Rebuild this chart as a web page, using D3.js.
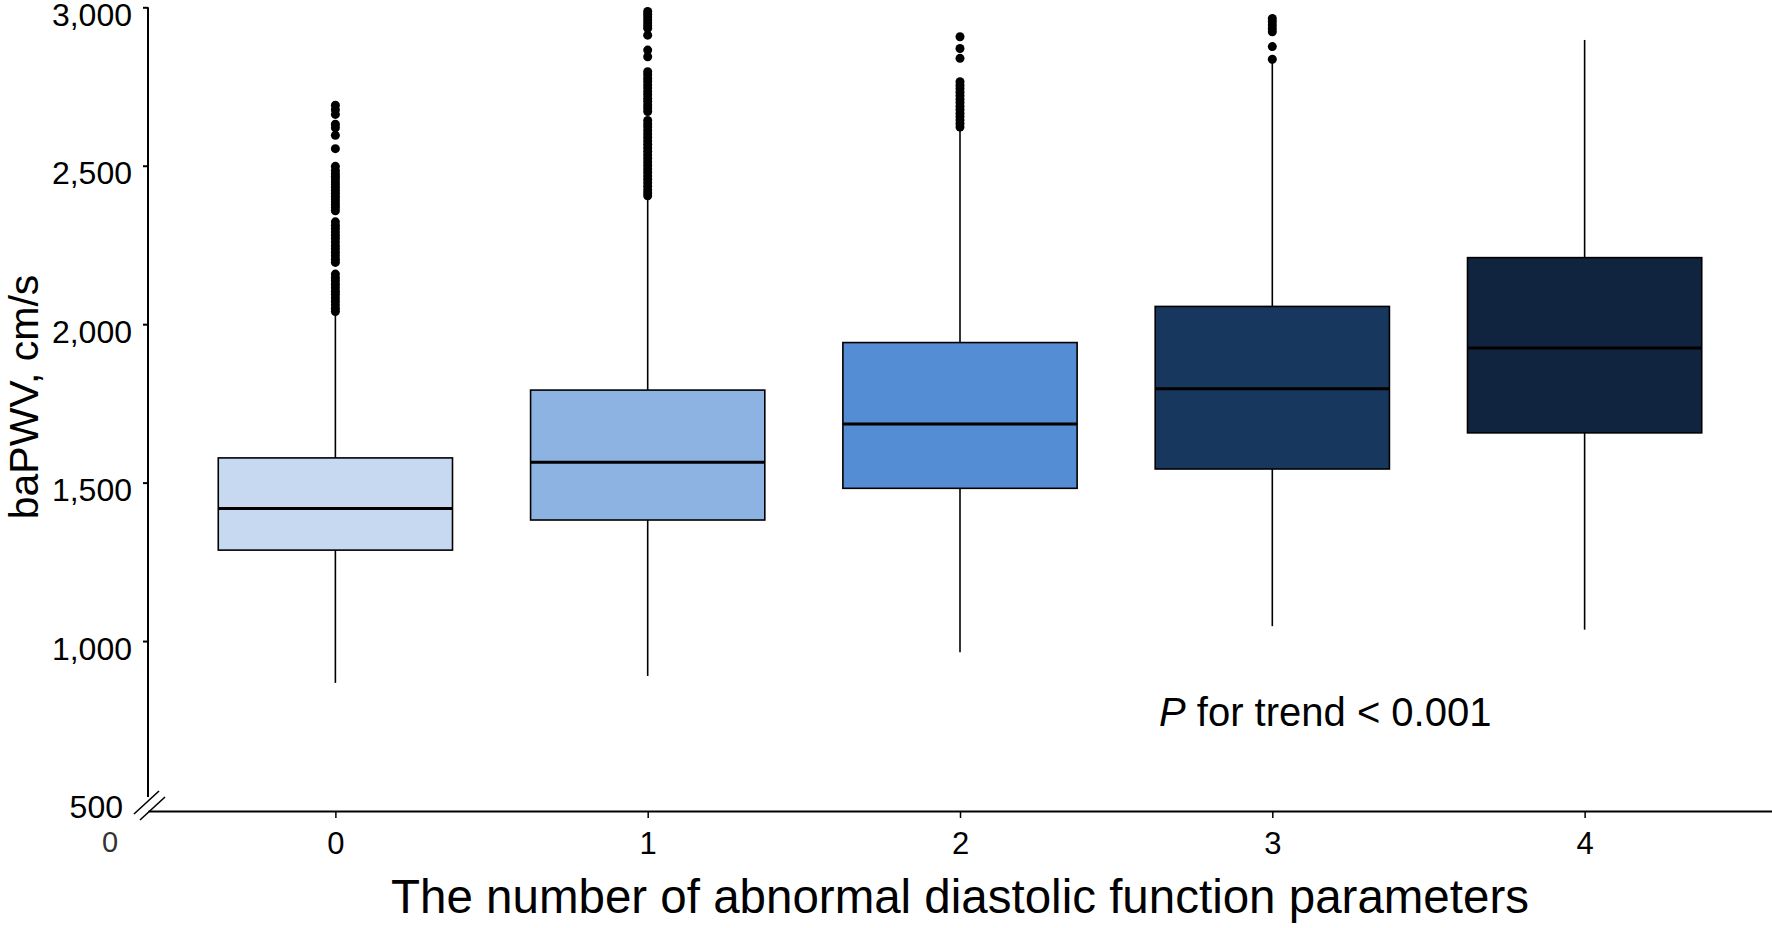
<!DOCTYPE html>
<html>
<head>
<meta charset="utf-8">
<script src="https://cdn.jsdelivr.net/npm/d3@7"></script>
<style>
  html, body { margin: 0; padding: 0; background: #ffffff; }
  svg { display: block; font-family: "Liberation Sans", Arial, "DejaVu Sans", sans-serif; }
</style>
</head>
<body>
<svg id="chart" width="1772" height="928"></svg>
<script>
// ---- Data ----
const categories = ["0", "1", "2", "3", "4"];
const q1      = [1287, 1382, 1482, 1543, 1657];
const medians = [1418, 1564, 1685, 1796, 1925];
const q3      = [1578, 1792, 1942, 2056, 2210];
const whiskerLow  = [868, 890, 965, 1047, 1036];
const whiskerHigh = [2030, 2395, 2615, 2830, 2897];
const boxColors = ["#c6d9f1", "#8db3e2", "#548dd4", "#17375e", "#10243f"];

const outliers0 = [2691, 2677, 2662, 2631, 2620, 2596, 2554, 2498, 2485,
  2475, 2466, 2458, 2449, 2440, 2431, 2422, 2413, 2404, 2395, 2386, 2377, 2368, 2358,
  2323, 2312, 2302, 2291, 2280, 2270, 2259, 2248, 2238, 2227, 2216, 2205, 2195,
  2158, 2147, 2137, 2126, 2115, 2104, 2094, 2083, 2072, 2061, 2050, 2040];
const outliers1 = [2987, 2978, 2969, 2960, 2951, 2942, 2934, 2912, 2865, 2844,
  2797, 2787, 2776, 2766, 2755, 2745, 2734, 2724, 2713, 2703, 2692, 2682, 2671,
  2643, 2632, 2622, 2611, 2600, 2589, 2578, 2567, 2556, 2545, 2534, 2523, 2512,
  2501, 2490, 2479, 2468, 2457, 2446, 2435, 2424, 2414, 2405];
const outliers2 = [2907, 2870, 2839, 2765, 2754, 2743, 2732, 2721, 2710, 2699,
  2688, 2677, 2666, 2655, 2644, 2633, 2622];
const outliers3 = [2965, 2955, 2944, 2933, 2923, 2876, 2836];
const outliers4 = [];
const outlierSets = [outliers0, outliers1, outliers2, outliers3, outliers4];

const yTicks = [1000, 1500, 2000, 2500, 3000];
const xTicks = [0, 1, 2, 3, 4];
const yTitle = "baPWV, cm/s";
const xTitle = "The number of abnormal diastolic function parameters";

// ---- Layout ----
const svg = d3.select("#chart");
const axisX0 = 148, axisXEnd = 1772;
const xAxisY = 811;

const x = d3.scaleLinear().domain([-0.6, 4.6]).range([axisX0, axisXEnd]);
const y = d3.scaleLinear().domain([500, 3000]).range([799.5, 7.3]);
const boxW = x(0.75) - x(0);

const fontTick = 32;

// Y axis
const yAxis = d3.axisLeft(y)
  .tickValues(yTicks)
  .tickFormat(d3.format(","))
  .tickSize(5)
  .tickSizeOuter(0)
  .tickPadding(11);
const gy = svg.append("g").attr("transform", `translate(${axisX0},0)`).call(yAxis);
gy.select(".domain").attr("stroke", "#000").attr("stroke-width", 2)
  .attr("d", `M0,${y(3000)}V${y(500) - 2.5}`);
gy.selectAll(".tick line").attr("stroke", "#000").attr("stroke-width", 2);
gy.selectAll(".tick text").attr("font-size", fontTick).attr("fill", "#000")
  .attr("y", 8)
  .attr("font-family", "Liberation Sans, Arial, sans-serif");

// X axis
const xAxis = d3.axisBottom(x)
  .tickValues(xTicks)
  .tickFormat((d, i) => categories[i])
  .tickSize(7)
  .tickSizeOuter(0)
  .tickPadding(14);
const gx = svg.append("g").attr("transform", `translate(0,${xAxisY})`).call(xAxis);
gx.select(".domain").attr("stroke", "#000").attr("stroke-width", 2);
gx.selectAll(".tick line").attr("stroke", "#000").attr("stroke-width", 1.5);
gx.selectAll(".tick text").attr("font-size", 31).attr("fill", "#000")
  .attr("font-family", "Liberation Sans, Arial, sans-serif");

// Axis break marks
const brk = svg.append("g").attr("stroke", "#000").attr("stroke-width", 1.6);
brk.append("line").attr("x1", 134).attr("y1", 814).attr("x2", 159).attr("y2", 791);
brk.append("line").attr("x1", 140).attr("y1", 820).attr("x2", 165).attr("y2", 797);

// "500" and "0" labels near the break
svg.append("text").attr("x", 123).attr("y", 818).attr("text-anchor", "end")
  .attr("font-size", 32).attr("fill", "#000").text("500");
svg.append("text").attr("x", 110).attr("y", 852).attr("text-anchor", "middle")
  .attr("font-size", 29).attr("fill", "#333").text("0");

// Boxes
const groups = svg.append("g").selectAll("g.box")
  .data(categories.map((c, i) => ({
    i, c, q1: q1[i], med: medians[i], q3: q3[i],
    lo: whiskerLow[i], hi: whiskerHigh[i], color: boxColors[i], out: outlierSets[i]
  })))
  .join("g").attr("class", "box");

// whiskers
groups.append("line")
  .attr("x1", d => x(d.i)).attr("x2", d => x(d.i))
  .attr("y1", d => y(d.q3)).attr("y2", d => y(d.hi))
  .attr("stroke", "#000").attr("stroke-width", 1.6);
groups.append("line")
  .attr("x1", d => x(d.i)).attr("x2", d => x(d.i))
  .attr("y1", d => y(d.q1)).attr("y2", d => y(d.lo))
  .attr("stroke", "#000").attr("stroke-width", 1.6);

// box
groups.append("rect")
  .attr("x", d => x(d.i) - boxW / 2)
  .attr("width", boxW)
  .attr("y", d => y(d.q3))
  .attr("height", d => y(d.q1) - y(d.q3))
  .attr("fill", d => d.color)
  .attr("stroke", "#000").attr("stroke-width", 1.6);

// median
groups.append("line")
  .attr("x1", d => x(d.i) - boxW / 2).attr("x2", d => x(d.i) + boxW / 2)
  .attr("y1", d => y(d.med)).attr("y2", d => y(d.med))
  .attr("stroke", "#000").attr("stroke-width", 3);

// outliers
groups.each(function(d) {
  d3.select(this).selectAll("circle")
    .data(d.out)
    .join("circle")
    .attr("cx", x(d.i))
    .attr("cy", v => y(v))
    .attr("r", 4.5)
    .attr("fill", "#000");
});

// P for trend annotation
const pt = svg.append("text").attr("x", 1159).attr("y", 726)
  .attr("font-size", 40).attr("fill", "#000");
pt.append("tspan").attr("font-style", "italic").text("P");
pt.append("tspan").text(" for trend < 0.001");

// Axis titles
svg.append("text")
  .attr("transform", "translate(38,397) rotate(-90)")
  .attr("text-anchor", "middle")
  .attr("font-size", 41).attr("fill", "#000")
  .text(yTitle);

svg.append("text")
  .attr("x", x(2)).attr("y", 913)
  .attr("text-anchor", "middle")
  .attr("font-size", 47.5).attr("fill", "#000")
  .text(xTitle);
</script>
</body>
</html>
